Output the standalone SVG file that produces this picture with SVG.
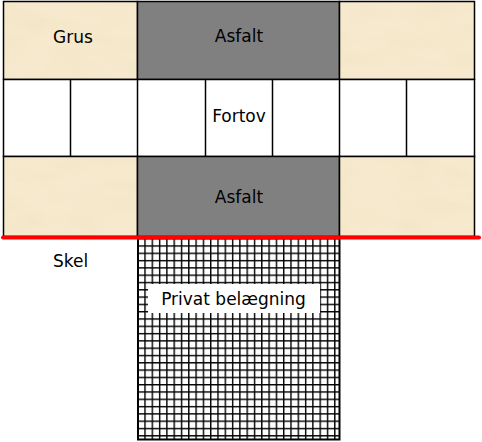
<svg xmlns="http://www.w3.org/2000/svg" width="482" height="442" viewBox="0 0 482 442">
  <style>
    .lbl { font-family: "DejaVu Sans", Verdana, sans-serif; font-size: 17px; fill: #000; text-anchor: middle; }
    .parch { fill: #F6E9CE; filter: url(#tex); }
    .asf { fill: #808080; }
    .cell { fill: #fff; }
    .bd { fill: none; stroke: #000; stroke-width: 1.5; }
  </style>
  <defs>
    <filter id="tex" x="0" y="0" width="1" height="1">
      <feTurbulence type="fractalNoise" baseFrequency="0.02 0.06" numOctaves="4" seed="3" result="n"/>
      <feColorMatrix in="n" type="matrix" values="0 0 0 0 0.86  0 0 0 0 0.75  0 0 0 0 0.52  0.8 0 0 0 -0.3" result="c"/>
      <feComposite in="c" in2="SourceAlpha" operator="in" result="ci"/>
      <feMerge><feMergeNode in="SourceGraphic"/><feMergeNode in="ci"/></feMerge>
    </filter>
    <pattern id="grid" x="137" y="238" width="7.3" height="7.3" patternUnits="userSpaceOnUse">
      <rect width="7.3" height="7.3" fill="#fff"/>
      <rect width="7.3" height="1.4" fill="#000"/>
      <rect width="1.4" height="7.3" fill="#000"/>
    </pattern>
  </defs>

  <rect width="482" height="442" fill="#fff"/>

  <g id="grus">
    <rect class="parch" x="3.5" y="1.5" width="134" height="78"/>
    <rect class="bd" x="3.5" y="1.5" width="134" height="78"/>
    <text class="lbl" x="73" y="42.5">Grus</text>
  </g>
  <g id="asfalt-top">
    <rect class="asf" x="137.5" y="1.5" width="202" height="78"/>
    <rect class="bd" x="137.5" y="1.5" width="202" height="78"/>
    <text class="lbl" x="239" y="42">Asfalt</text>
  </g>
  <g id="grus-right-top">
    <rect class="parch" x="339.5" y="1.5" width="135" height="78"/>
    <rect class="bd" x="339.5" y="1.5" width="135" height="78"/>
  </g>

  <g id="fortov">
    <rect class="cell" x="3.5" y="79.5" width="471" height="77"/>
    <rect class="bd" x="3.5" y="79.5" width="471" height="77"/>
    <path class="bd" d="M70.5 79.5V156.5M137.5 79.5V156.5M205.5 79.5V156.5M272.5 79.5V156.5M339.5 79.5V156.5M406.5 79.5V156.5"/>
    <text class="lbl" x="239" y="122">Fortov</text>
  </g>

  <g id="grus-left-bottom">
    <rect class="parch" x="3.5" y="156.5" width="134" height="80"/>
    <rect class="bd" x="3.5" y="156.5" width="134" height="80"/>
  </g>
  <g id="asfalt-bottom">
    <rect class="asf" x="137.5" y="156.5" width="202" height="80"/>
    <rect class="bd" x="137.5" y="156.5" width="202" height="80"/>
    <text class="lbl" x="239" y="203">Asfalt</text>
  </g>
  <g id="grus-right-bottom">
    <rect class="parch" x="339.5" y="156.5" width="135" height="80"/>
    <rect class="bd" x="339.5" y="156.5" width="135" height="80"/>
  </g>

  <g id="privat">
    <rect x="137" y="238" width="203" height="202" fill="url(#grid)" shape-rendering="crispEdges"/>
    <path d="M138 238V440M339.5 238V440M137 439.5H340.5" stroke="#000" stroke-width="2" fill="none"/>
    <rect x="148" y="284" width="172" height="29" fill="#fff"/>
    <text class="lbl" x="233.5" y="305">Privat belægning</text>
  </g>

  <g id="skel">
    <text class="lbl" x="70.5" y="266.5">Skel</text>
  </g>

  <g id="connectors">
    <line x1="3" y1="237.5" x2="479" y2="237.5" stroke="#ff0000" stroke-width="4" stroke-linecap="round"/>
  </g>
</svg>
